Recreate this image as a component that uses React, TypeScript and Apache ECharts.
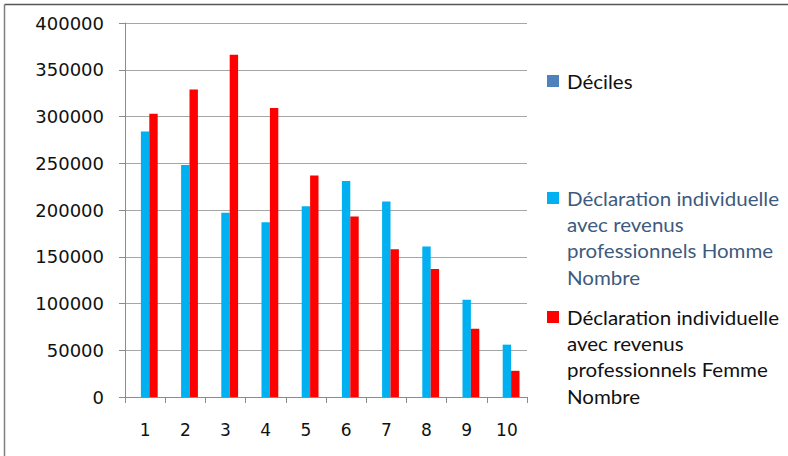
import React, { useEffect, useRef } from "react";
import * as echarts from "echarts";

const categories = ["1", "2", "3", "4", "5", "6", "7", "8", "9", "10"];
const deciles = [1, 2, 3, 4, 5, 6, 7, 8, 9, 10];
const homme = [284000, 248000, 197000, 187000, 204000, 231000, 209000, 161000, 104000, 56000];
const femme = [303000, 329000, 366000, 309000, 237000, 193000, 158000, 137000, 73000, 28000];
const yTicks = [0, 50000, 100000, 150000, 200000, 250000, 300000, 350000, 400000];

const seriesNames = [
  "Déciles",
  "Déclaration individuelle avec revenus professionnels Homme Nombre",
  "Déclaration individuelle avec revenus professionnels Femme Nombre",
];
const legendLines = [
  ["Déciles"],
  ["Déclaration individuelle", "avec revenus", "professionnels Homme", "Nombre"],
  ["Déclaration individuelle", "avec revenus", "professionnels Femme", "Nombre"],
];
const colors = ["#4F81BD", "#00B0F0", "#FF0000"];
const legendTextColors = ["#111111", "#3E5A7E", "#111111"];
const legendTops = [81, 198, 317];

export default function App() {
  const ref = useRef<HTMLDivElement>(null);
  useEffect(() => {
    document.body.style.margin = "0";
    const chart = echarts.init(ref.current!, null, { renderer: "svg" });
    const lineH = 26.3;
    const legendGraphics: any[] = [];
    legendLines.forEach((lines, i) => {
      const y0 = legendTops[i];
      legendGraphics.push({
        type: "rect",
        shape: { x: 547, y: y0 - 6, width: 12, height: 12 },
        style: { fill: colors[i] },
      });
      lines.forEach((ln, j) => {
        legendGraphics.push({
          type: "text",
          x: 567,
          y: y0 + j * lineH,
          scaleX: 1.08,
          style: {
            text: ln,
            fill: legendTextColors[i],
            font: '19px Lato, "Open Sans", sans-serif',
            verticalAlign: "middle",
          },
        });
      });
    });
    chart.setOption({
      animation: false,
      backgroundColor: "#ffffff",
      grid: { left: 125, right: 261, top: 23, bottom: 59, containLabel: false },
      xAxis: {
        type: "category",
        data: categories,
        axisLine: { show: true, lineStyle: { color: "#8c8c8c", width: 1 } },
        axisTick: { show: true, length: 6, lineStyle: { color: "#8c8c8c" } },
        axisLabel: {
          margin: 24,
          color: "#111",
          fontSize: 17,
          fontFamily: '"DejaVu Sans", Verdana, sans-serif',
        },
        splitLine: { show: false },
      },
      yAxis: {
        type: "value",
        min: yTicks[0],
        max: yTicks[yTicks.length - 1],
        interval: yTicks[1] - yTicks[0],
        axisLine: { show: true, lineStyle: { color: "#8c8c8c", width: 1 } },
        axisTick: { show: true, length: 6, lineStyle: { color: "#8c8c8c" } },
        axisLabel: {
          margin: 21,
          color: "#111",
          fontSize: 18,
          fontFamily: '"DejaVu Sans", Verdana, sans-serif',
          formatter: (v: number) => String(v),
        },
        splitLine: { show: true, lineStyle: { color: "#a6a6a6", width: 1 } },
      },
      series: [deciles, homme, femme].map((d, i) => ({
        name: seriesNames[i],
        type: "bar",
        data: d,
        barWidth: 8.4,
        barGap: "0%",
        itemStyle: { color: colors[i] },
      })),
      graphic: [
        {
          type: "line",
          shape: { x1: 4.5, y1: 4.5, x2: 788, y2: 4.5 },
          style: { stroke: "#555555", lineWidth: 1.5 },
        },
        {
          type: "line",
          shape: { x1: 4.5, y1: 4.5, x2: 4.5, y2: 456 },
          style: { stroke: "#808080", lineWidth: 1.5 },
        },
        ...legendGraphics,
      ],
    });
    return () => chart.dispose();
  }, []);
  return <div ref={ref} style={{ width: 788, height: 456 }} />;
}
